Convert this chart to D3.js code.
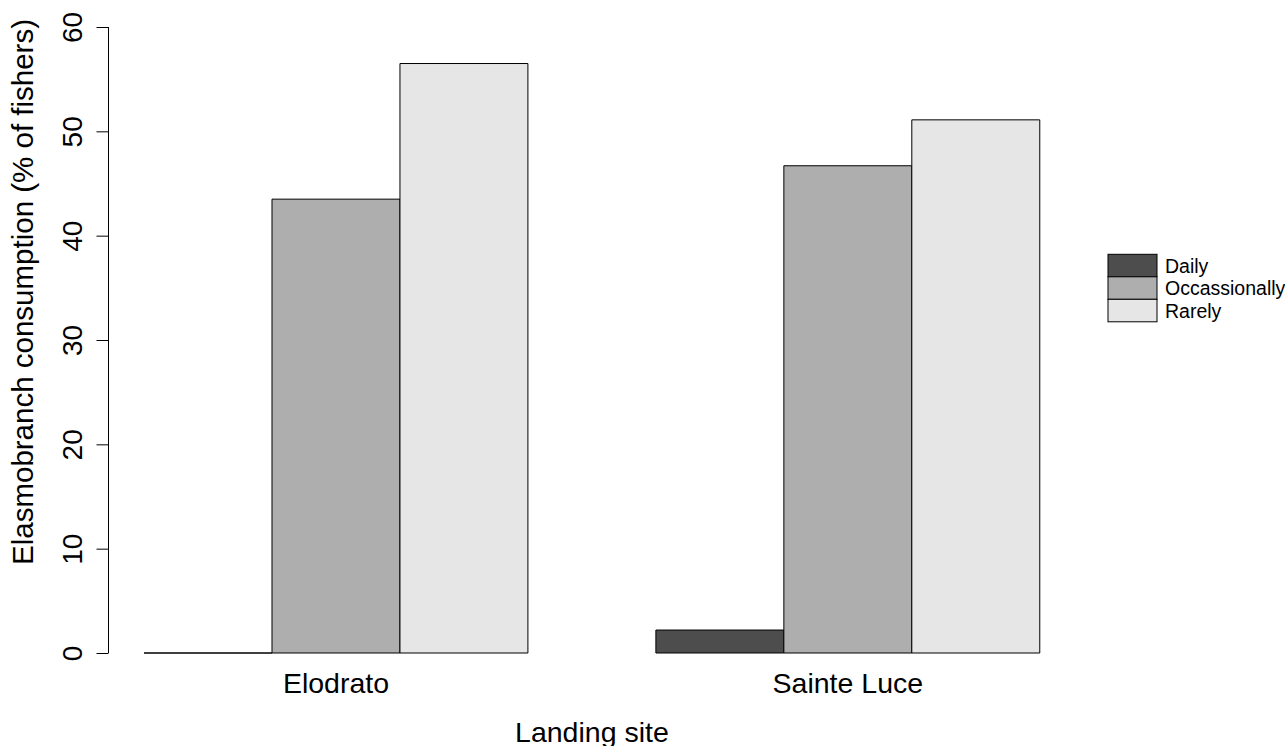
<!DOCTYPE html>
<html>
<head>
<meta charset="utf-8">
<script src="https://cdn.jsdelivr.net/npm/d3@7"></script>
<style>
  html, body { margin: 0; padding: 0; background: #fff; }
  svg { display: block; font-family: "Liberation Sans", Arial, Helvetica, sans-serif; }
</style>
</head>
<body>
<svg id="chart" width="1285" height="746"></svg>
<script>
const sites = ["Elodrato", "Sainte Luce"];
const frequencies = ["Daily", "Occassionally", "Rarely"];
const daily = [0, 2.2];
const occasionally = [43.5, 46.7];
const rarely = [56.5, 51.1];
const yTicks = [0, 10, 20, 30, 40, 50, 60];
const colors = ["#4D4D4D", "#AEAEAE", "#E6E6E6"];

const series = [daily, occasionally, rarely];
const svg = d3.select("#chart");

// R barplot(beside=TRUE) layout: one bar-width gap before each group
const nS = frequencies.length;
const bars = [];
sites.forEach((site, g) => {
  series.forEach((vals, s) => {
    const left = 1 + g * (nS + 1) + s;
    bars.push({ site, g, s, left, value: vals[g] });
  });
});
const xmin = 1, xmax = sites.length * (nS + 1);
const pad = (xmax - xmin) * 0.04;
const x = d3.scaleLinear().domain([xmin - pad, xmax + pad]).range([108.2, 1075.6]);
const y = d3.scaleLinear().domain([0, 60]).range([653, 27]);

// bars (as closed paths so zero-height bars still show their outline)
svg.append("g").selectAll("path").data(bars).join("path")
  .attr("d", d => {
    const x0 = x(d.left), x1 = x(d.left + 1), y0 = y(0), y1 = y(d.value);
    return `M${x0},${y0}H${x1}V${y1}H${x0}Z`;
  })
  .attr("fill", d => colors[d.s])
  .attr("stroke", "#000")
  .attr("stroke-width", 1);

// y axis
const yAxis = d3.axisLeft(y).tickValues(yTicks).tickSize(12).tickPadding(0).tickFormat(d3.format("d"));
const ya = svg.append("g").attr("transform", "translate(108.5,0)").call(yAxis);
ya.select(".domain").attr("d", `M0,${y(0)}V${y(60)}`).attr("stroke", "#000");
ya.selectAll(".tick line").attr("stroke", "#000");
ya.selectAll(".tick text")
  .attr("x", null).attr("dy", null)
  .attr("transform", "translate(-26.5,0) rotate(-90)")
  .attr("text-anchor", "middle")
  .attr("fill", "#000")
  .style("font-size", "28px");

// x category labels
const xl = d3.scaleOrdinal().domain(sites).range(sites.map((s, g) => x(1 + g * (nS + 1) + nS / 2)));
svg.append("g").selectAll("text").data(sites).join("text")
  .attr("x", d => xl(d))
  .attr("y", 693)
  .attr("text-anchor", "middle")
  .style("font-size", "28.5px")
  .text(d => d);

// axis titles
svg.append("text")
  .attr("x", (x.range()[0] + x.range()[1]) / 2)
  .attr("y", 741.5)
  .attr("text-anchor", "middle")
  .style("font-size", "28.5px")
  .text("Landing site");
svg.append("text")
  .attr("transform", `translate(33,19) rotate(-90)`)
  .attr("text-anchor", "end")
  .style("font-size", "29.5px")
  .text("Elasmobranch consumption (% of fishers)");

// legend
const rowH = 22.5;
const lg = svg.append("g").attr("transform", "translate(1108,254.3)");
const items = lg.selectAll("g").data(frequencies).join("g")
  .attr("transform", (d, i) => `translate(0,${i * rowH})`);
items.append("rect")
  .attr("width", 49).attr("height", rowH)
  .attr("fill", (d, i) => colors[i])
  .attr("stroke", "#000").attr("stroke-width", 1);
items.append("text")
  .attr("x", 57).attr("y", rowH / 2 + 7)
  .style("font-size", "19.5px")
  .text(d => d);
</script>
</body>
</html>
